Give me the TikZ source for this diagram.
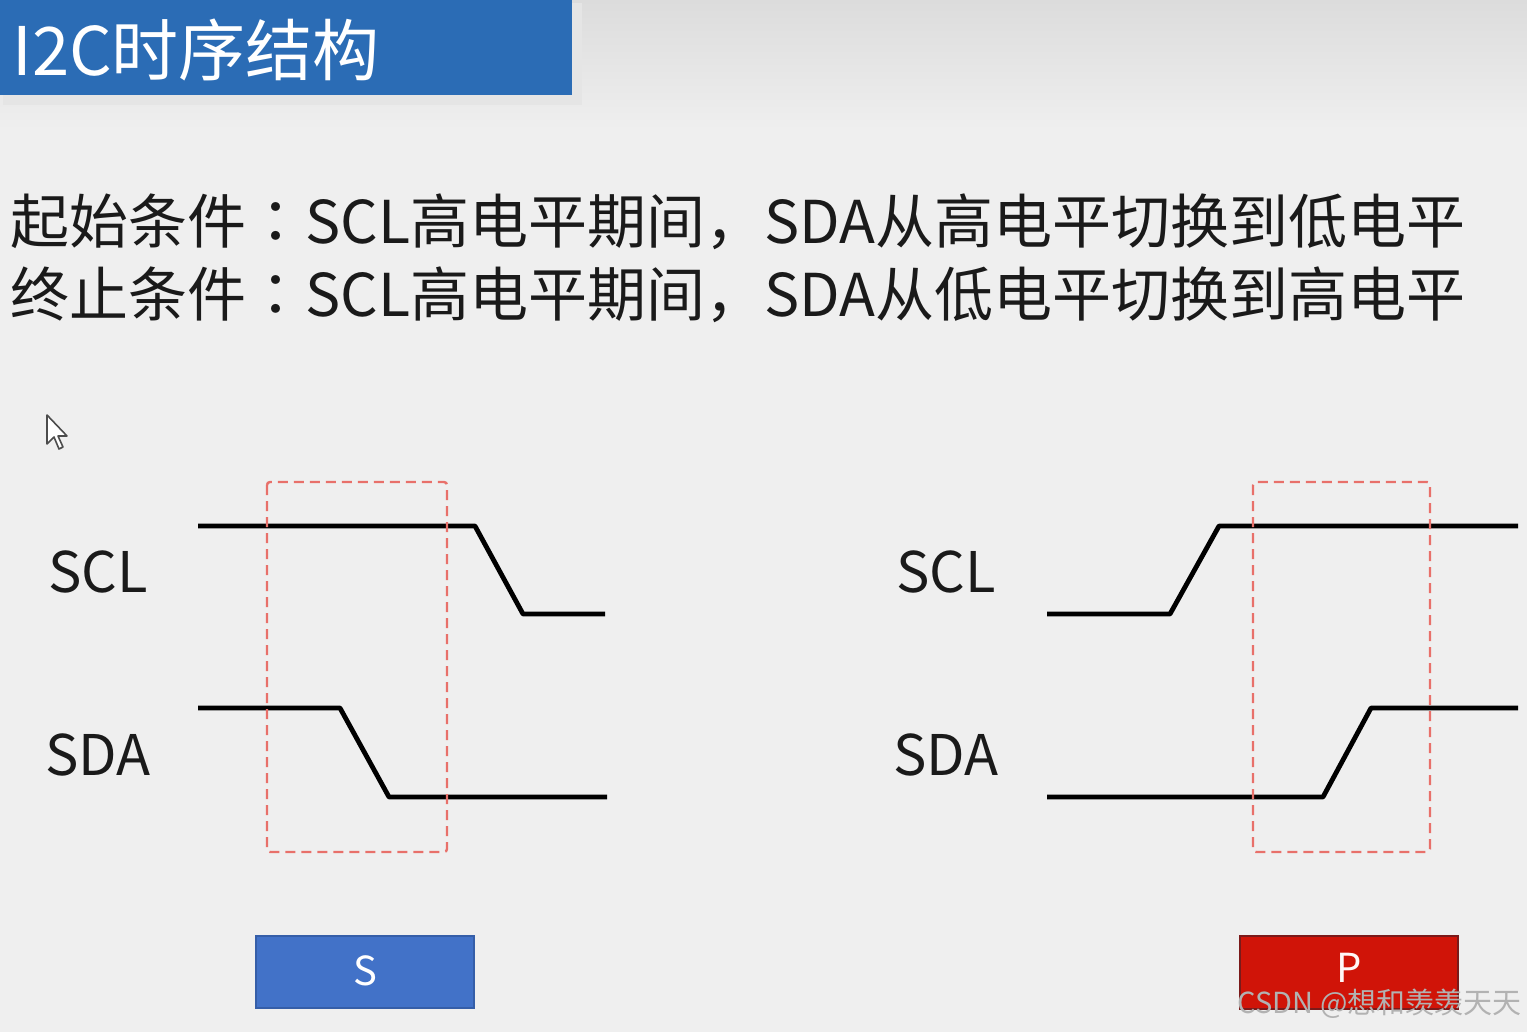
\documentclass[tikz,border=0pt]{standalone}
\usepackage{fontspec}
\setmainfont{Noto Sans CJK SC}
\newfontfamily\tcfont{Noto Sans CJK TC}
\definecolor{bgc}{HTML}{EFEFEF}
\definecolor{bgtop}{HTML}{DCDCDC}
\definecolor{titleblue}{HTML}{2B6CB5}
\definecolor{txt}{HTML}{1A1A1A}
\definecolor{dashred}{HTML}{E8706A}
\definecolor{sfill}{HTML}{4272C8}
\definecolor{sdraw}{HTML}{355EA8}
\definecolor{pfill}{HTML}{D01408}
\definecolor{pdraw}{HTML}{7A1A1A}
\newcommand{\fwcolon}{{\tcfont ：}}
\begin{document}
\begin{tikzpicture}[x=0.5pt,y=-0.5pt,
  wave/.style={line width=2.4pt, line join=round, line cap=butt, black},
  window/.style={dashred, line width=1.2pt, dash pattern=on 5pt off 3pt, rounded corners=1.5pt},
  siglabel/.style={inner sep=0, text=txt, font=\fontsize{28}{28}\selectfont},
  condline/.style={anchor=west, inner sep=0, text=txt, font=\fontsize{29.5}{30}\selectfont},
  marktext/.style={inner sep=0, font=\fontsize{20}{20}\selectfont}]
\useasboundingbox (0,0) rectangle (1527,1032);
% background
\fill[bgc] (0,0) rectangle (1527,1032);
\shade[top color=bgtop, bottom color=bgc] (0,0) rectangle (1527,130);
% title bar
\fill[black!18] (3,3) rectangle (578,101);
\fill[black!10] (3,3) rectangle (582,105);
\fill[titleblue] (0,0) rectangle (572,95);
\node[anchor=west, inner sep=0, text=white, font=\fontsize{33.5}{34}\selectfont] (title) at (12,50) {I2C时序结构};
% condition lines
\node[condline] (start) at (10,222) {起始条件\fwcolon SCL高电平期间，SDA从高电平切换到低电平};
\node[condline] (stop) at (10,295) {终止条件\fwcolon SCL高电平期间，SDA从低电平切换到高电平};
% cursor
\draw[black!70, fill=white, line width=0.8pt, line join=round] (47,415) -- (47,444) -- (54,437) -- (59,449) -- (63,447) -- (58,436) -- (67,436) -- cycle;
% left: start condition
\node[siglabel] (sclL) at (98,572) {SCL};
\node[siglabel] (sdaL) at (98,755) {SDA};
\draw[wave] (198,526) -- (475,526) -- (523,614) -- (605,614);
\draw[wave] (198,708) -- (340,708) -- (389,797) -- (607,797);
\draw[window] (267,482) rectangle (447,852);
% right: stop condition
\node[siglabel] (sclR) at (946,572) {SCL};
\node[siglabel] (sdaR) at (946,755) {SDA};
\draw[wave] (1047,614) -- (1170,614) -- (1219,526) -- (1518,526);
\draw[wave] (1047,797) -- (1323,797) -- (1371,708) -- (1518,708);
\draw[window] (1253,482) rectangle (1430,852);
% S and P markers
\filldraw[fill=sfill, draw=sdraw, line width=1pt] (256,936) rectangle (474,1008);
\node[marktext, text=white] (S) at (365,971) {S};
\filldraw[fill=pfill, draw=pdraw, line width=1.2pt] (1240,936) rectangle (1458,1009);
\node[marktext, text=white!88!pink] (P) at (1349,968) {P};
% watermark
\node[anchor=east, inner sep=0, text=black!30, font=\fontsize{14.5}{15}\selectfont] (wm) at (1522,1004) {CSDN @想和羡羡天天};
\end{tikzpicture}
\end{document}
